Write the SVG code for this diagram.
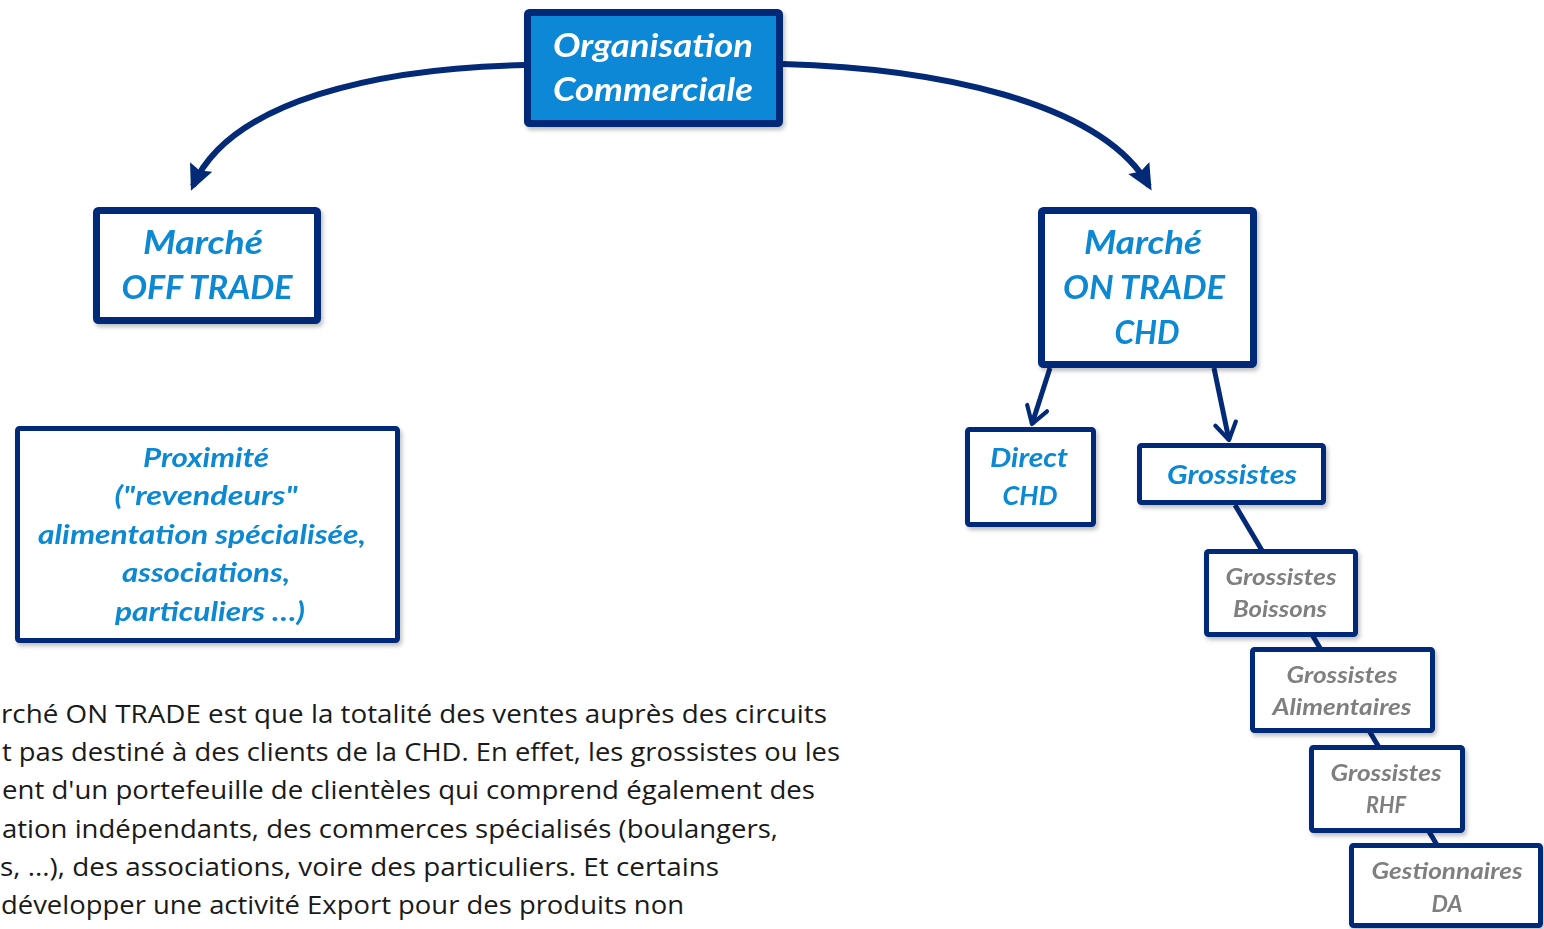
<svg xmlns="http://www.w3.org/2000/svg" width="1544" height="929" viewBox="0 0 1544 929">
<style>
.box{fill:#fff;stroke:#032a77;stroke-linejoin:round}
.thick{stroke-width:7}
.thin{stroke-width:5}
.lb{font-family:Lato,"Open Sans","Liberation Sans",sans-serif;font-weight:bold;font-style:italic;text-anchor:middle}
.blue{fill:#0a88d3}
.gray{fill:#7f7f7f}
.white{fill:#fff}
.body{font-family:"Open Sans","Liberation Sans",sans-serif;font-size:25px;fill:#1a1a1a}
.conn{fill:none;stroke:#032a77}
</style>
<defs>
<filter id="sh" x="-10%" y="-10%" width="130%" height="130%">
<feDropShadow dx="2" dy="3" stdDeviation="2" flood-color="#000" flood-opacity="0.25"/>
</filter>
<marker id="ah" viewBox="0 0 10 10" refX="8" refY="5" markerWidth="4.3" markerHeight="4.3" orient="auto" markerUnits="strokeWidth">
<path d="M0,0.3 L10,5 L0,9.7 L1.5,5 Z" fill="#032a77"/>
</marker>
<marker id="oa" viewBox="0 0 12 12" refX="10" refY="6" markerWidth="5" markerHeight="5" orient="auto" markerUnits="strokeWidth">
<path d="M2,1 L10,6 L2,11" fill="none" stroke="#032a77" stroke-width="2" stroke-linecap="round" stroke-linejoin="round"/>
</marker>
</defs>

<g id="connectors">
<path class="conn" stroke-width="6" d="M524,65 C380,68 230,100 193,186" marker-end="url(#ah)"/>
<path class="conn" stroke-width="6" d="M783,64 C930,68 1100,100 1149,186" marker-end="url(#ah)"/>
<line class="conn" stroke-width="5" x1="1050" y1="368" x2="1032" y2="424" marker-end="url(#oa)"/>
<line class="conn" stroke-width="5" x1="1214" y1="368" x2="1229" y2="440" marker-end="url(#oa)"/>
<line class="conn" stroke-width="5" x1="1235" y1="505" x2="1437" y2="845"/>
</g>

<g id="organisation" filter="url(#sh)">
<rect x="527.5" y="12.5" width="252" height="111" rx="2" fill="#0a88d6" stroke="#032a77" stroke-width="7" stroke-linejoin="round"/>
<text class="lb white" x="653" y="57" font-size="32" textLength="200" lengthAdjust="spacingAndGlyphs">Organisation</text>
<text class="lb white" x="653" y="101" font-size="32" textLength="200" lengthAdjust="spacingAndGlyphs">Commerciale</text>
</g>

<g id="offtrade" filter="url(#sh)">
<rect class="box thick" x="96.5" y="210.5" width="221" height="110" rx="2"/>
<text class="lb blue" x="203" y="254" font-size="32" textLength="120" lengthAdjust="spacingAndGlyphs">Marché</text>
<text class="lb blue" x="207" y="299" font-size="32" textLength="171" lengthAdjust="spacingAndGlyphs">OFF TRADE</text>
</g>

<g id="ontrade" filter="url(#sh)">
<rect class="box thick" x="1041.5" y="210.5" width="212" height="154" rx="2"/>
<text class="lb blue" x="1143" y="254" font-size="32" textLength="118" lengthAdjust="spacingAndGlyphs">Marché</text>
<text class="lb blue" x="1144" y="299" font-size="32" textLength="162" lengthAdjust="spacingAndGlyphs">ON TRADE</text>
<text class="lb blue" x="1147" y="344" font-size="32" textLength="65" lengthAdjust="spacingAndGlyphs">CHD</text>
</g>

<g id="proximite" filter="url(#sh)">
<rect class="box thin" x="17.5" y="428.5" width="380" height="212" rx="2"/>
<text class="lb blue" x="206" y="467" font-size="27" textLength="126" lengthAdjust="spacingAndGlyphs">Proximité</text>
<text class="lb blue" x="206" y="505" font-size="27" textLength="183" lengthAdjust="spacingAndGlyphs">("revendeurs"</text>
<text class="lb blue" x="202" y="544" font-size="27" textLength="328" lengthAdjust="spacingAndGlyphs">alimentation spécialisée,</text>
<text class="lb blue" x="206" y="582" font-size="27" textLength="168" lengthAdjust="spacingAndGlyphs">associations,</text>
<text class="lb blue" x="210" y="621" font-size="27" textLength="190" lengthAdjust="spacingAndGlyphs">particuliers …)</text>
</g>

<g id="direct" filter="url(#sh)">
<rect class="box thin" x="967.5" y="429.5" width="126" height="95" rx="2"/>
<text class="lb blue" x="1029" y="467" font-size="27" textLength="78" lengthAdjust="spacingAndGlyphs">Direct</text>
<text class="lb blue" x="1030" y="505" font-size="27" textLength="55" lengthAdjust="spacingAndGlyphs">CHD</text>
</g>

<g id="grossistes" filter="url(#sh)">
<rect class="box thin" x="1139.5" y="445.5" width="184" height="57" rx="2"/>
<text class="lb blue" x="1232" y="484" font-size="27" textLength="130" lengthAdjust="spacingAndGlyphs">Grossistes</text>
</g>

<g id="boissons" filter="url(#sh)">
<rect class="box thin" x="1206.5" y="551.5" width="149" height="83" rx="2"/>
<text class="lb gray" x="1281" y="585" font-size="23" textLength="111" lengthAdjust="spacingAndGlyphs">Grossistes</text>
<text class="lb gray" x="1280" y="617" font-size="23" textLength="94" lengthAdjust="spacingAndGlyphs">Boissons</text>
</g>

<g id="alimentaires" filter="url(#sh)">
<rect class="box thin" x="1252.5" y="649.5" width="180" height="81" rx="2"/>
<text class="lb gray" x="1342" y="683" font-size="23" textLength="111" lengthAdjust="spacingAndGlyphs">Grossistes</text>
<text class="lb gray" x="1342" y="715" font-size="23" textLength="139" lengthAdjust="spacingAndGlyphs">Alimentaires</text>
</g>

<g id="rhf" filter="url(#sh)">
<rect class="box thin" x="1311.5" y="747.5" width="151" height="83" rx="2"/>
<text class="lb gray" x="1386" y="781" font-size="23" textLength="111" lengthAdjust="spacingAndGlyphs">Grossistes</text>
<text class="lb gray" x="1386" y="813" font-size="23" textLength="40" lengthAdjust="spacingAndGlyphs">RHF</text>
</g>

<g id="gestionnaires" filter="url(#sh)">
<rect class="box thin" x="1351.5" y="845.5" width="189" height="80" rx="2"/>
<text class="lb gray" x="1447" y="879" font-size="23" textLength="151" lengthAdjust="spacingAndGlyphs">Gestionnaires</text>
<text class="lb gray" x="1447" y="912" font-size="23" textLength="31" lengthAdjust="spacingAndGlyphs">DA</text>
</g>

<g id="body-text">
<text class="body" x="1" y="723" textLength="826" lengthAdjust="spacingAndGlyphs">rché ON TRADE est que la totalité des ventes auprès des circuits</text>
<text class="body" x="2" y="761" textLength="838" lengthAdjust="spacingAndGlyphs">t pas destiné à des clients de la CHD. En effet, les grossistes ou les</text>
<text class="body" x="2" y="799" textLength="813" lengthAdjust="spacingAndGlyphs">ent d'un portefeuille de clientèles qui comprend également des</text>
<text class="body" x="2" y="838" textLength="776" lengthAdjust="spacingAndGlyphs">ation indépendants, des commerces spécialisés (boulangers,</text>
<text class="body" x="0" y="876" textLength="719" lengthAdjust="spacingAndGlyphs">s, ...), des associations, voire des particuliers. Et certains</text>
<text class="body" x="1" y="914" textLength="683" lengthAdjust="spacingAndGlyphs">développer une activité Export pour des produits non</text>
</g>
</svg>
